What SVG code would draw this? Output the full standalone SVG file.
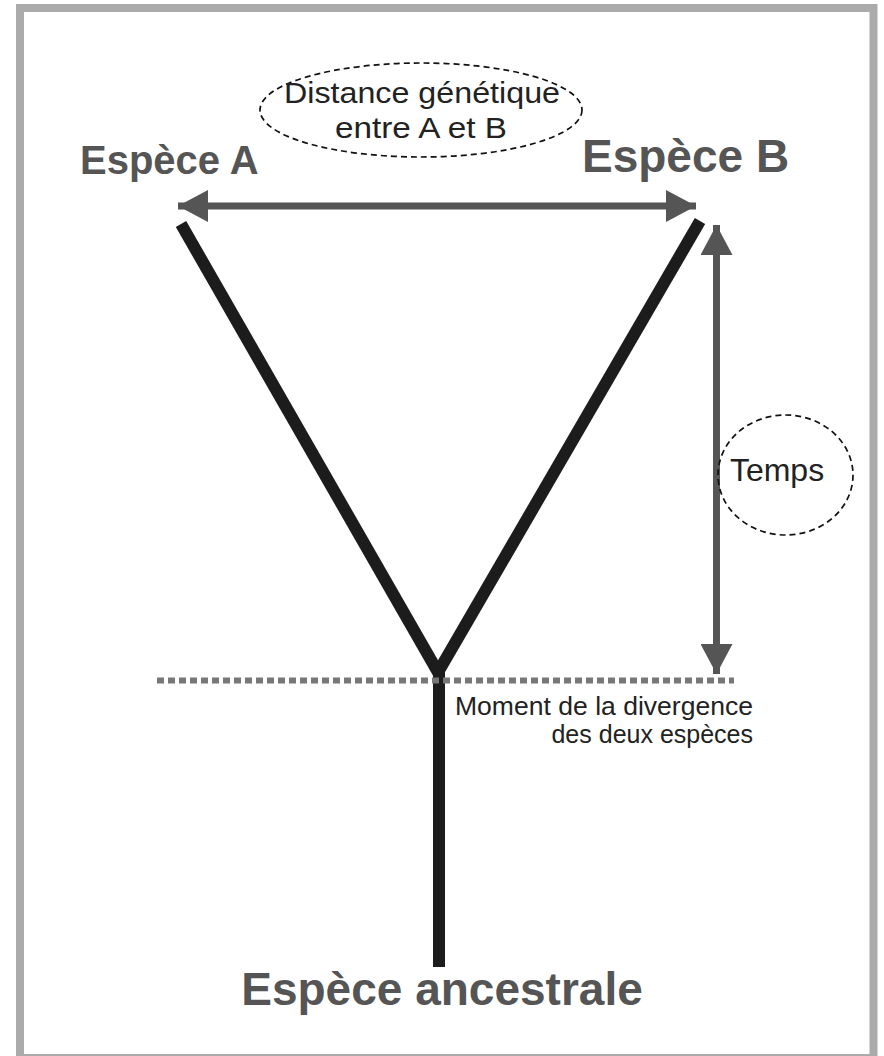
<svg xmlns="http://www.w3.org/2000/svg" width="884" height="1056" viewBox="0 0 884 1056">
<defs>
<style>
.lbl{font-family:"Liberation Sans",Arial,sans-serif;font-weight:bold;fill:#555555}
.note{font-family:"Liberation Sans",Arial,sans-serif;fill:#222222}
.branch{stroke:#1c1c1c;stroke-width:12;fill:none;stroke-linecap:butt}
.bubble{fill:none;stroke:#111111;stroke-width:1.7;stroke-dasharray:6 4}
.arrow{stroke:#555555;stroke-width:7;fill:none}
</style>
<marker id="ah" viewBox="0 0 30 32" refX="30" refY="16" markerWidth="30" markerHeight="32" markerUnits="userSpaceOnUse" orient="auto-start-reverse">
<path d="M0,0 L30,16 L0,32 Z" fill="#555555"/>
</marker>
</defs>
<rect x="0" y="0" width="884" height="1056" fill="#ffffff"/>
<rect x="20" y="8" width="853.5" height="1050" fill="#ffffff" stroke="#ababab" stroke-width="8"/>
<g id="connectors">
<line class="branch" x1="181" y1="224" x2="439" y2="674"/>
<line class="branch" x1="700" y1="221" x2="437" y2="674"/>
<line class="branch" x1="439" y1="670" x2="439" y2="967" stroke-width="11"/>
<line x1="157" y1="680.5" x2="734" y2="680.5" stroke="#777777" stroke-width="6" stroke-dasharray="7 4"/>
<line class="arrow" x1="178" y1="206" x2="696" y2="206" marker-start="url(#ah)" marker-end="url(#ah)"/>
<line class="arrow" x1="716.5" y1="225" x2="716.5" y2="674" marker-start="url(#ah)" marker-end="url(#ah)"/>
</g>
<g id="especeA"><text class="lbl" x="80" y="174" font-size="40">Espèce A</text></g>
<g id="especeB"><text class="lbl" x="582" y="172" font-size="46">Espèce B</text></g>
<g id="ancestrale"><text class="lbl" x="442" y="1005" font-size="46" text-anchor="middle">Espèce ancestrale</text></g>
<g id="distance">
<ellipse class="bubble" cx="421" cy="110" rx="161" ry="47"/>
<text class="note" x="422" y="103" font-size="30" text-anchor="middle" textLength="276" lengthAdjust="spacingAndGlyphs">Distance génétique</text>
<text class="note" x="421" y="138" font-size="30" text-anchor="middle" textLength="172" lengthAdjust="spacingAndGlyphs">entre A et B</text>
</g>
<g id="temps">
<ellipse class="bubble" cx="785.5" cy="475" rx="67.5" ry="60"/>
<text class="note" x="777" y="481" font-size="32" text-anchor="middle">Temps</text>
</g>
<g id="divergence">
<text class="note" x="753" y="715" font-size="25" text-anchor="end" fill="#3a3a3a" textLength="298" lengthAdjust="spacingAndGlyphs">Moment de la divergence</text>
<text class="note" x="753" y="743" font-size="25" text-anchor="end" fill="#3a3a3a">des deux espèces</text>
</g>
</svg>
